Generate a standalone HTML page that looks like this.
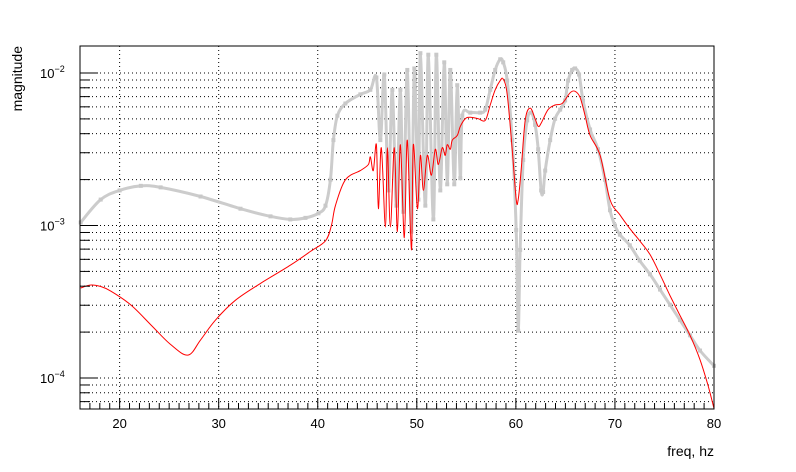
<!DOCTYPE html>
<html><head><meta charset="utf-8"><style>
body{margin:0;background:#fff}
svg{display:block;font-family:"Liberation Sans",sans-serif}
</style></head><body>
<svg id="chart" width="796" height="472" viewBox="0 0 796 472">
<rect width="796" height="472" fill="#fff"/>
<g id="grid"></g>
<g id="series"></g>
<rect x="80" y="46" width="634" height="363" fill="none" stroke="#000" stroke-width="1"/>
<g id="axes"></g>
<text x="714" y="456" text-anchor="end" font-size="14">freq, hz</text>
<text transform="translate(22,46) rotate(-90)" text-anchor="end" font-size="14">magnitude</text>
</svg>
<script>
const xTicks=[20,30,40,50,60,70,80];
const yDecades=[-4,-3,-2];
const grayFreq=[16.07,18.09,20.0,22.14,24.14,28.17,32.2,35.23,37.23,38.76,40.07,40.78,41.28,41.58,41.98,42.79,44.3,45.31,45.92,46.32,46.72,47.13,47.53,47.94,48.34,48.64,49.04,49.45,49.75,50.16,50.36,50.86,51.16,51.67,51.97,52.37,52.77,53.07,53.38,53.78,54.08,54.39,54.59,55.4,56.4,56.91,57.41,57.91,58.42,58.72,59.12,59.63,60.03,60.23,60.43,60.74,61.14,61.54,61.94,62.25,62.55,62.75,62.96,63.46,63.96,64.47,64.97,65.27,65.68,65.98,66.38,66.78,67.49,68.29,69.0,69.5,70.0,70.5,71.5,72.5,73.54,74.55,75.56,76.57,77.58,78.59,80];
const grayLogMag=[-2.98,-2.83,-2.77,-2.74,-2.75,-2.81,-2.89,-2.94,-2.96,-2.95,-2.92,-2.87,-2.70,-2.44,-2.28,-2.20,-2.14,-2.11,-2.03,-2.44,-2.01,-2.77,-2.11,-2.87,-2.11,-2.91,-1.98,-3.04,-1.97,-2.83,-1.87,-2.87,-1.88,-2.96,-1.88,-2.77,-1.93,-2.73,-1.98,-2.73,-2.08,-2.69,-2.28,-2.26,-2.26,-2.24,-2.11,-1.98,-1.91,-1.93,-2.05,-2.44,-3.03,-3.69,-3.16,-2.57,-2.31,-2.26,-2.34,-2.50,-2.77,-2.78,-2.64,-2.44,-2.30,-2.24,-2.18,-2.05,-1.98,-1.97,-2.01,-2.18,-2.37,-2.50,-2.70,-2.90,-3.00,-3.06,-3.13,-3.23,-3.32,-3.42,-3.52,-3.62,-3.72,-3.82,-3.92];
const redFreq=[16.07,17.08,18.09,19.1,21.11,23.13,25.14,26.9,28.17,29.68,31.7,34.22,37.25,39.27,40.78,41.38,41.78,42.79,44.3,45.11,45.31,45.61,45.92,46.12,46.42,46.83,47.03,47.33,47.73,48.04,48.34,48.74,49.04,49.45,49.65,50.06,50.36,50.66,51.06,51.47,51.87,52.17,52.57,52.87,53.07,53.38,53.58,54.08,54.39,54.89,55.4,56.2,56.91,57.41,57.91,58.42,58.72,59.12,59.63,60.03,60.23,60.53,60.94,61.44,61.94,62.25,62.55,63.25,63.96,64.67,65.47,65.98,66.48,66.99,67.49,68.5,69.5,70.5,71.5,72.5,73.54,74.55,75.56,76.57,77.58,78.59,79.4,80];
const redLogMag=[-3.41,-3.39,-3.40,-3.43,-3.52,-3.65,-3.78,-3.85,-3.75,-3.62,-3.49,-3.38,-3.26,-3.17,-3.10,-3.00,-2.87,-2.70,-2.64,-2.60,-2.55,-2.64,-2.47,-2.89,-2.49,-3.01,-2.49,-3.01,-2.49,-3.04,-2.47,-3.08,-2.44,-3.16,-2.47,-2.89,-2.54,-2.77,-2.54,-2.67,-2.50,-2.60,-2.49,-2.54,-2.47,-2.50,-2.44,-2.41,-2.35,-2.30,-2.29,-2.30,-2.31,-2.21,-2.11,-2.05,-2.04,-2.14,-2.50,-2.83,-2.83,-2.64,-2.31,-2.23,-2.30,-2.35,-2.33,-2.24,-2.21,-2.20,-2.13,-2.12,-2.16,-2.28,-2.41,-2.54,-2.83,-2.93,-3.02,-3.10,-3.19,-3.32,-3.46,-3.59,-3.72,-3.88,-4.05,-4.20];

const NS='http://www.w3.org/2000/svg';
const L=80,R=714,T=46,B=409;
const xMin=16,xMax=80;
function sx(f){return L+(f-xMin)/(xMax-xMin)*(R-L);}
function sy(lg){return 73+(-2-lg)*152.5;}
function mk(tag,attrs,parent){const e=document.createElementNS(NS,tag);for(const k in attrs)e.setAttribute(k,attrs[k]);parent.appendChild(e);return e;}
const grid=document.getElementById('grid'),axes=document.getElementById('axes'),series=document.getElementById('series');
for(let v=16;v<=80;v++){
  const x=sx(v),major=v%10===0;
  const t=mk('line',{x1:x,x2:x,y1:B,y2:B-(major?11:6),stroke:'#000'},axes);
  
  
}
xTicks.forEach(v=>{
  const x=sx(v);
  if(v<80){const g=mk('line',{x1:x,x2:x,y1:T,y2:B,stroke:'#000','stroke-dasharray':'1,3'},grid);
  
  }
  const tx=mk('text',{x:x,y:428,'text-anchor':'middle','font-size':13},axes);tx.textContent=v;
  
  
});
for(let d=-5;d<=-1;d++){
  for(let m=1;m<=9;m++){
    const lg=d+Math.log10(m),y=sy(lg);
    if(y<T||y>B)continue;
    const g=mk('line',{x1:L,x2:R,y1:y,y2:y,stroke:'#000','stroke-dasharray':'1,3'},grid);
    
    
    const t=mk('line',{x1:L,x2:L+(m===1?18:10),y1:y,y2:y,stroke:'#000'},axes);
    
    
  }
}
yDecades.forEach(d=>{
  const y=sy(d);
  const tx=mk('text',{x:40,y:y+5,'font-size':13},axes);
  tx.innerHTML='10<tspan dy="-6" font-size="9">−'+(-d)+'</tspan>';
  
  
});
function path(fs,vs){
  const p=fs.map((f,i)=>[sx(f),sy(vs[i])]);
  let d='M'+p[0][0].toFixed(1)+','+p[0][1].toFixed(1);
  for(let i=0;i<p.length-1;i++){
    const p0=p[Math.max(0,i-1)],p1=p[i],p2=p[i+1],p3=p[Math.min(p.length-1,i+2)];
    const c1=[p1[0]+(p2[0]-p0[0])/6,p1[1]+(p2[1]-p0[1])/6];
    const c2=[p2[0]-(p3[0]-p1[0])/6,p2[1]-(p3[1]-p1[1])/6];
    d+='C'+c1[0].toFixed(1)+','+c1[1].toFixed(1)+' '+c2[0].toFixed(1)+','+c2[1].toFixed(1)+' '+p2[0].toFixed(1)+','+p2[1].toFixed(1);
  }
  return d;
}
const gp=mk('path',{d:path(grayFreq,grayLogMag),fill:'none',stroke:'#cccccc','stroke-width':3,'stroke-linejoin':'round'},series);


grayFreq.forEach((f,i)=>{
  const c=mk('rect',{x:sx(f)-2,y:sy(grayLogMag[i])-2,width:4,height:4,fill:'#c8c8c8'},series);
  
  
});
const rp=mk('path',{d:path(redFreq,redLogMag),fill:'none',stroke:'#ff0000','stroke-width':1},series);


</script>
</body></html>
